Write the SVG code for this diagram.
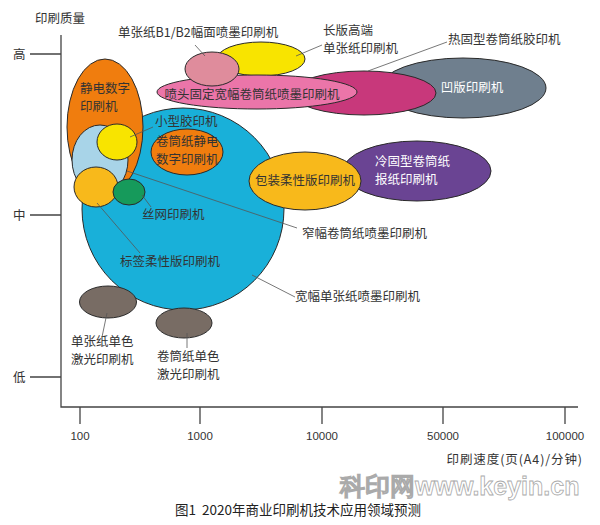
<svg xmlns="http://www.w3.org/2000/svg" width="600" height="525" viewBox="0 0 600 525">
<style>
text{font-family:"Noto Sans CJK SC","Noto Sans",sans-serif;font-size:12.5px;fill:#333}
.num{font-family:"Liberation Sans",Arial,sans-serif;font-size:11.5px}
.w{fill:#fff}
.e{stroke:#2a2a2a;stroke-width:1}
.ax{stroke:#444;stroke-width:1.3;fill:none}
.ld{stroke:#555;stroke-width:0.8;fill:none}
.cap{font-size:13.5px;fill:#222}
.wm{font-family:"Liberation Sans",Arial,sans-serif;font-weight:bold;font-size:25px;fill:#fff;stroke:#aaa;stroke-width:0.8}
</style>
<rect width="600" height="525" fill="#fff"/>
<g id="axes">
<path class="ax" d="M61 35V407H578M30 54H61M30 215H61M30 377H61M80 407V424M200 407V424M322 407V424M443 407V424M565 407V424"/>
<text x="35" y="23">印刷质量</text>
<text x="13" y="59">高</text>
<text x="13" y="220">中</text>
<text x="13" y="382">低</text>
<text class="num" x="80" y="440" text-anchor="middle">100</text>
<text class="num" x="200" y="440" text-anchor="middle">1000</text>
<text class="num" x="322" y="440" text-anchor="middle">10000</text>
<text class="num" x="443" y="440" text-anchor="middle">50000</text>
<text class="num" x="565" y="440" text-anchor="middle">100000</text>
<text x="583" y="464" text-anchor="end" letter-spacing="0.9">印刷速度(页(A4)/分钟)</text>
</g>
<g id="n-kuanfu-danzhang"><ellipse class="e" cx="183" cy="209" rx="101" ry="101" fill="#19b0d9"/></g>
<g id="n-jingdian"><ellipse class="e" cx="105" cy="127" rx="38" ry="68" fill="#f07d0e"/>
<text x="80" y="93">静电数字</text><text x="80" y="111">印刷机</text></g>
<g id="n-zhaifu"><ellipse class="e" cx="100" cy="160" rx="28" ry="35" fill="#a8d4e8"/></g>
<g id="n-xiaoxing"><ellipse class="e" cx="117" cy="142" rx="20" ry="18" fill="#f8e400"/></g>
<g id="n-juantong-jingdian"><ellipse class="e" cx="187" cy="152" rx="36" ry="23" fill="#f07d0e"/>
<text x="156" y="146">卷筒纸静电</text><text x="156" y="164">数字印刷机</text></g>
<g id="n-biaoqian"><ellipse class="e" cx="96" cy="187" rx="22" ry="20" fill="#f8b91b"/></g>
<g id="n-siwang"><ellipse class="e" cx="129" cy="192" rx="16" ry="13" fill="#169a5b"/></g>
<g id="n-aoban"><ellipse class="e" cx="463" cy="88" rx="83" ry="30" fill="#6f7f8e"/>
<text class="w" x="472" y="92" text-anchor="middle">凹版印刷机</text></g>
<g id="n-regu"><ellipse class="e" cx="364" cy="93" rx="72" ry="22" fill="#c8387b"/></g>
<g id="n-changban"><ellipse class="e" cx="261" cy="59" rx="44" ry="17" fill="#f8e400"/></g>
<g id="n-pentou"><ellipse class="e" cx="257" cy="92" rx="100" ry="17" fill="#eb75a9"/>
<text x="252" y="99" text-anchor="middle">喷头固定宽幅卷筒纸喷墨印刷机</text></g>
<g id="n-b1b2"><ellipse class="e" cx="212" cy="69" rx="27" ry="17" fill="#df8c9c"/></g>
<g id="n-lenggu"><ellipse class="e" cx="417" cy="171" rx="74" ry="30" fill="#6a4493"/>
<text class="w" x="375" y="166">冷固型卷筒纸</text><text class="w" x="375" y="184">报纸印刷机</text></g>
<g id="n-baozhuang"><ellipse class="e" cx="305" cy="181" rx="56" ry="29" fill="#f8b91b"/>
<text x="305" y="185" text-anchor="middle">包装柔性版印刷机</text></g>
<g id="n-danzhang-jiguang"><ellipse class="e" cx="108" cy="302" rx="28.5" ry="16" fill="#786c64"/></g>
<g id="n-juantong-jiguang"><ellipse class="e" cx="184" cy="323" rx="28" ry="15" fill="#786c64"/></g>
<g id="connectors">
<path class="ld" d="M195 45L205 56M296 56L322 45M368 71L447 42M130 137L153 127M127 171L297 228M142 195L151 207M97 203L140 253M252 275L295 297M107 313L102 337M187 333V348"/>
</g>
<g id="labels">
<text x="118" y="37">单张纸B1/B2幅面喷墨印刷机</text>
<text x="323" y="35">长版高端</text>
<text x="323" y="53">单张纸印刷机</text>
<text x="448" y="44">热固型卷筒纸胶印机</text>
<text x="155" y="126">小型胶印机</text>
<text x="142" y="219">丝网印刷机</text>
<text x="120" y="266">标签柔性版印刷机</text>
<text x="302" y="238">窄幅卷筒纸喷墨印刷机</text>
<text x="295" y="301">宽幅单张纸喷墨印刷机</text>
<text x="71" y="346">单张纸单色</text>
<text x="71" y="364">激光印刷机</text>
<text x="157" y="361">卷筒纸单色</text>
<text x="157" y="379">激光印刷机</text>
</g>
<text class="wm" x="340" y="495">科印网www.keyin.cn</text>
<text class="cap" x="175" y="515" xml:space="preserve">图1  2020年商业印刷机技术应用领域预测</text>
</svg>
